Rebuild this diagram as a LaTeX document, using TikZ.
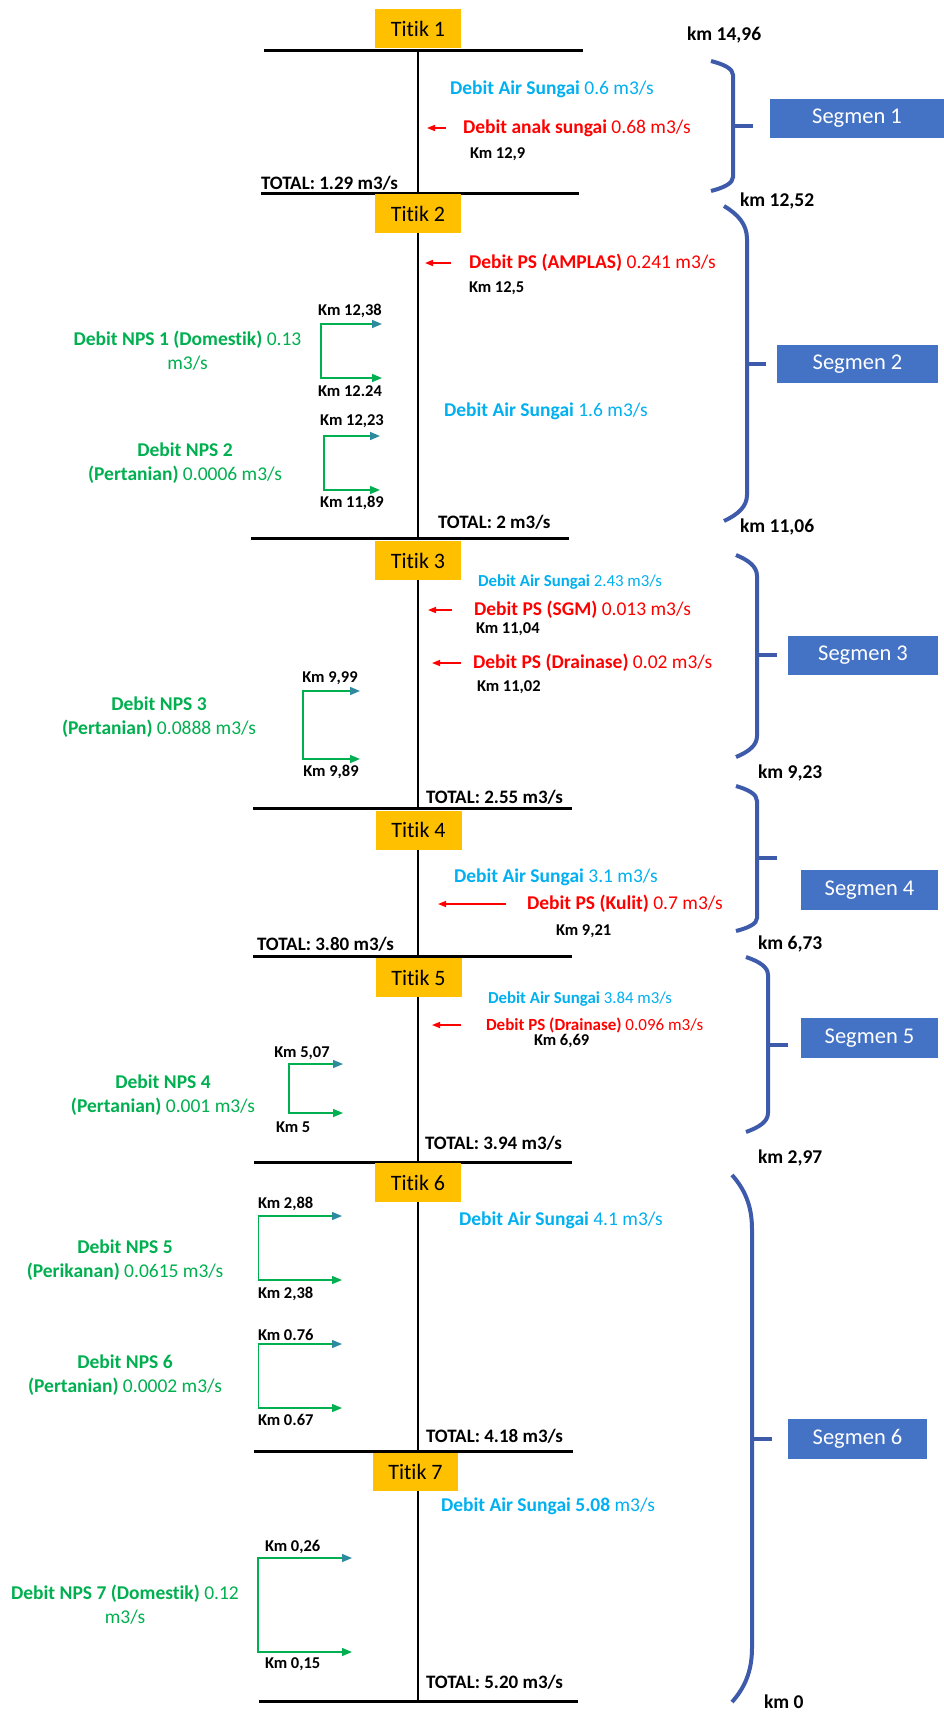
\documentclass[tikz,border=0pt]{standalone}
\usepackage{fontspec}
\setmainfont{Carlito}[Ligatures={NoCommon}]
\usetikzlibrary{arrows.meta}
\definecolor{titikc}{HTML}{FFC000}
\definecolor{segc}{HTML}{4472C4}
\definecolor{bracec}{HTML}{3D5AAB}
\definecolor{skyc}{HTML}{00B0F0}
\definecolor{redc}{HTML}{FF0000}
\definecolor{greenc}{HTML}{00B050}
\definecolor{npstop}{HTML}{2E8A9E}
\newcommand\segbrace[8]{%
  \draw[bracel] (#1,#2) .. controls ({#1+0.6*(#3-#1)},{#2+0.25*(#4-#2)}) and (#3,{#4-0.45*(#4-#2)}) .. (#3,#4)
     -- (#3,#5) .. controls (#3,{#5+0.45*(#6-#5)}) and ({#1+0.6*(#3-#1)},{#6-0.25*(#6-#5)}) .. (#1,#6);
  \draw[bracel] (#3,#7) -- (#8,#7);}
\newcommand\npsbracket[4]{% arrow end x, vertical x, top y, bottom y
  \draw[npsarrow] (#1,#3) -- (#2,#3) -- (#2,#4) -- (#1,#4);}
\tikzset{
  every node/.style={inner sep=0pt, outer sep=0pt},
  riv/.style={line width=2.8pt, black},
  hline/.style={line width=3pt, black},
  titik/.style={fill=titikc, minimum width=86pt, minimum height=39pt, font=\fontsize{22}{26}\selectfont},
  seg/.style={fill=segc, text=white, minimum height=39pt, font=\fontsize{22.5}{26}\selectfont},
  das/.style={anchor=west, text=skyc, font=\fontsize{19.5}{23}\selectfont},
  dassm/.style={anchor=west, text=skyc, font=\fontsize{16.8}{20}\selectfont},
  pstext/.style={anchor=west, text=redc, font=\fontsize{19.5}{23}\selectfont},
  pstextsm/.style={anchor=west, text=redc, font=\fontsize{17}{20}\selectfont},
  kmlab/.style={font=\bfseries\fontsize{16.5}{20}\selectfont},
  kmright/.style={anchor=west, font=\bfseries\fontsize{19.5}{23}\selectfont},
  total/.style={anchor=west, font=\bfseries\fontsize{19}{23}\selectfont},
  npstext/.style={text=greenc, align=center, font=\fontsize{19.5}{24}\selectfont},
  psarrow/.style={redc, line width=1.5pt, -{Triangle[length=8pt,width=6pt]}},
  npsarrow/.style={greenc, line width=1.5pt, arrows={Triangle[length=10pt,width=8pt,color=npstop]-Triangle[length=10pt,width=8pt]}},
  bracel/.style={bracec, line width=4pt},
}
\begin{document}
\begin{tikzpicture}[x=1pt,y=-1pt]
\useasboundingbox (0,0) rectangle (944,1716);
\fill[white] (0,0) rectangle (944,1716);

% ---------- horizontal lines ----------
\coordinate (L1a) at (264,50);  \coordinate (L1b) at (583,50);
\coordinate (L2a) at (261,193); \coordinate (L2b) at (579,193);
\coordinate (L3a) at (251,538); \coordinate (L3b) at (569,538);
\coordinate (L4a) at (253,808); \coordinate (L4b) at (572,808);
\coordinate (L5a) at (253,956); \coordinate (L5b) at (572,956);
\coordinate (L6a) at (254,1162); \coordinate (L6b) at (572,1162);
\coordinate (L7a) at (254,1451); \coordinate (L7b) at (573,1451);
\coordinate (L8a) at (259,1701); \coordinate (L8b) at (578,1701);
\foreach \i in {1,...,8} {\draw[hline] (L\i a) -- (L\i b);}

% ---------- Titik boxes ----------
\node[titik] (T1) at (418,28.5) {Titik 1};
\node[titik] (T2) at (418,213.5) {Titik 2};
\node[titik] (T3) at (418,560.5) {Titik 3};
\node[titik] (T4) at (418.5,830) {Titik 4};
\node[titik] (T5) at (418.5,977.5) {Titik 5};
\node[titik] (T6) at (418,1182.5) {Titik 6};
\node[titik, minimum width=85pt, minimum height=38pt] (T7) at (415.5,1472) {Titik 7};

% ---------- river ----------
\coordinate (r1) at (418,50);
\coordinate (r2) at (418,193);
\coordinate (r3) at (418,538);
\coordinate (r4) at (418,808);
\coordinate (r5) at (418,956);
\coordinate (r6) at (418,1162);
\coordinate (r7) at (418,1451);
\coordinate (r8) at (418,1701);
\draw[riv] (r1) -- (r2);
\draw[riv] (T2.south) -- (r3);
\draw[riv] (T3.south) -- (r4);
\draw[riv] (T4.south -| r5) -- (r5);
\draw[riv] (T5.south -| r6) -- (r6);
\draw[riv] (T6.south) -- (r7);
\draw[riv] (T7.south -| r8) -- (r8);

% ---------- Segment 1 ----------
\node[das] (das1) at (450,89) {\textbf{Debit Air Sungai} 0.6 m3/s};
\node[pstext] (ps1) at (463,128) {\textbf{Debit anak sungai} 0.68 m3/s};
\draw[psarrow] (446,128) -- (427,128);
\node[kmlab, anchor=west] (k129) at (470,154) {Km 12,9};
\node[total] (tot1) at (261,183) {TOTAL: 1.29 m3/s};

% ---------- Segment 2 ----------
\node[pstext] (ps2) at (469,263) {\textbf{Debit PS (AMPLAS)} 0.241 m3/s};
\draw[psarrow] (451,263) -- (425,263);
\node[kmlab, anchor=west] (k125) at (469,288) {Km 12,5};
\node[kmlab] (k1238) at (350,311) {Km 12,38};
\npsbracket{382}{321}{324}{378}
\node[kmlab] (k1224) at (350,391) {Km 12.24};
\node[npstext] (nps1) at (187.5,351) {\textbf{Debit NPS 1 (Domestik)} 0.13\\m3/s};
\node[kmlab] (k1223) at (352,421) {Km 12,23};
\npsbracket{380}{324}{436}{490}
\node[kmlab] (k1189) at (352,503) {Km 11,89};
\node[npstext] (nps2) at (185,463) {\textbf{Debit NPS 2}\\\textbf{(Pertanian)} 0.0006 m3/s};
\node[das] (das2) at (444,411) {\textbf{Debit Air Sungai} 1.6 m3/s};
\node[total] (tot2) at (438,522) {TOTAL: 2 m3/s};

% ---------- Segment 3 ----------
\node[dassm] (das3) at (478,582) {\textbf{Debit Air Sungai} 2.43 m3/s};
\node[pstext] (ps3) at (474,610) {\textbf{Debit PS (SGM)} 0.013 m3/s};
\draw[psarrow] (452,610) -- (428,610);
\node[kmlab, anchor=west] (k1104) at (476,629) {Km 11,04};
\node[pstext] (ps4) at (473,663) {\textbf{Debit PS (Drainase)} 0.02 m3/s};
\draw[psarrow] (461,663) -- (432,663);
\node[kmlab, anchor=west] (k1102) at (477,687) {Km 11,02};
\node[kmlab] (k999) at (330,678) {Km 9,99};
\npsbracket{360}{303}{691}{759}
\node[kmlab] (k989) at (331,772) {Km 9,89};
\node[npstext] (nps3) at (159,717.5) {\textbf{Debit NPS 3}\\\textbf{(Pertanian)} 0.0888 m3/s};
\node[total] (tot3) at (426,797) {TOTAL: 2.55 m3/s};

% ---------- Segment 4 ----------
\node[das] (das4) at (454,877) {\textbf{Debit Air Sungai} 3.1 m3/s};
\node[pstext] (ps5) at (527,904) {\textbf{Debit PS (Kulit)} 0.7 m3/s};
\draw[psarrow] (506,904) -- (438,904);
\node[kmlab, anchor=west] (k921) at (556,931) {Km 9,21};
\node[total] (tot4) at (257,944) {TOTAL: 3.80 m3/s};

% ---------- Segment 5 ----------
\node[dassm] (das5) at (488,999) {\textbf{Debit Air Sungai} 3.84 m3/s};
\node[pstextsm] (ps6) at (486,1025) {\textbf{Debit PS (Drainase)} 0.096 m3/s};
\draw[psarrow] (461,1025) -- (432,1025);
\node[kmlab, anchor=west] (k669) at (534,1041) {Km 6,69};
\node[kmlab] (k507) at (302,1053) {Km 5,07};
\npsbracket{343}{289}{1064}{1113}
\node[kmlab, anchor=west] (k5) at (276,1127) {Km 5};
\node[npstext] (nps4) at (163,1095) {\textbf{Debit NPS 4}\\\textbf{(Pertanian)} 0.001 m3/s};
\node[total] (tot5) at (425,1143) {TOTAL: 3.94 m3/s};

% ---------- Segment 6 ----------
\node[das] (das6) at (459,1220) {\textbf{Debit Air Sungai} 4.1 m3/s};
\node[kmlab, anchor=west] (k288) at (258,1204) {Km 2,88};
\npsbracket{342}{258.5}{1216}{1280}
\node[kmlab, anchor=west] (k238) at (258,1294) {Km 2,38};
\node[npstext] (nps5) at (125,1260) {\textbf{Debit NPS 5}\\\textbf{(Perikanan)} 0.0615 m3/s};
\node[kmlab, anchor=west] (k076) at (258,1335) {Km 0.76};
\npsbracket{342}{258.5}{1344}{1408}
\node[kmlab, anchor=west] (k067) at (258,1420) {Km 0.67};
\node[npstext] (nps6) at (125,1375.5) {\textbf{Debit NPS 6}\\\textbf{(Pertanian)} 0.0002 m3/s};
\node[total] (tot6) at (426,1436) {TOTAL: 4.18 m3/s};

% ---------- Segment 7 ----------
\node[das] (das7) at (441,1506) {\textbf{Debit Air Sungai 5.08} m3/s};
\node[kmlab, anchor=west] (k026) at (265,1547) {Km 0,26};
\npsbracket{352}{258}{1558}{1652}
\node[kmlab, anchor=west] (k015) at (265,1664) {Km 0,15};
\node[npstext] (nps7) at (125,1605) {\textbf{Debit NPS 7 (Domestik)} 0.12\\m3/s};
\node[total] (tot7) at (426,1682) {TOTAL: 5.20 m3/s};

% ---------- braces and segment labels ----------
\segbrace{711}{61}{733}{75}{177}{191}{126}{753}
\segbrace{724}{206}{747}{239}{495}{521}{364}{766}
\segbrace{736}{555}{757}{576}{736}{757}{655}{777}
\segbrace{736}{786}{757}{801}{918}{931}{858}{777}
\segbrace{746}{957}{768}{975}{1113}{1132}{1045}{788}
\segbrace{732}{1175}{752}{1229}{1648}{1702}{1439}{772}

\node[seg, minimum width=174pt] (S1) at (857,118.5) {Segmen 1};
\node[seg, minimum width=161pt, minimum height=38pt] (S2) at (857.5,364) {Segmen 2};
\node[seg, minimum width=150pt] (S3) at (863,655.5) {Segmen 3};
\node[seg, minimum width=137pt, minimum height=40pt] (S4) at (869.5,890) {Segmen 4};
\node[seg, minimum width=137pt, minimum height=40pt] (S5) at (869.5,1038) {Segmen 5};
\node[seg, minimum width=139pt, minimum height=40pt] (S6) at (857.5,1439) {Segmen 6};

\node[kmright] (km1) at (687,35) {km 14,96};
\node[kmright] (km2) at (740,201) {km 12,52};
\node[kmright] (km3) at (740,527) {km 11,06};
\node[kmright] (km4) at (758,773) {km 9,23};
\node[kmright] (km5) at (758,944) {km 6,73};
\node[kmright] (km6) at (758,1158) {km 2,97};
\node[kmright] (km7) at (764,1702) {km 0};
\end{tikzpicture}
\end{document}
